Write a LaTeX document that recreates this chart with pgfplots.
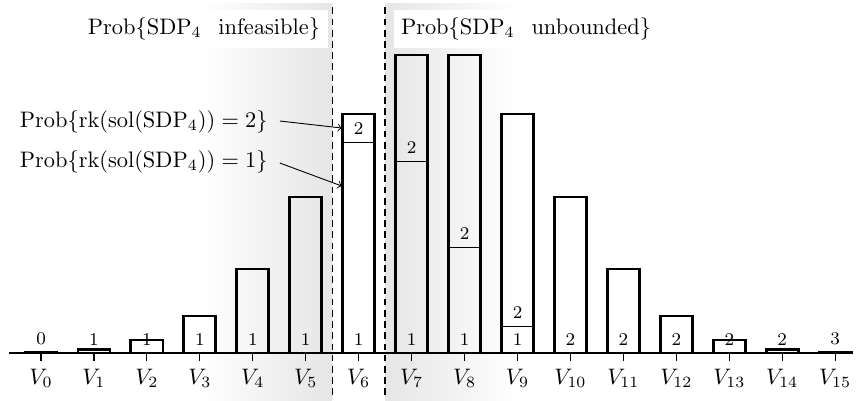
\documentclass[border=0pt]{standalone}
\usepackage{pgfplots}
\usepackage{pgfplotstable}
\pgfplotsset{compat=1.18}

\pgfplotstableread{
x tot low
0 1 0
1 3.5 3.5
2 13 13
3 37 37
4 84 84
5 156 156
6 239 211
7 298 192
8 298 106
9 239 27
10 156 0
11 84 0
12 37 0
13 13 0
14 3.5 0
15 1 0
}\bars

\pgfplotstableread{
x y lab
0 14 0
1 14 1
2 14 1
3 14 1
4 14 1
5 14 1
6 14 1
7 14 1
8 14 1
9 14 1
10 14 2
11 14 2
12 14 2
13 14 2
14 14 2
15 14 3
6 224 2
7 205 2
8 119 2
9 40 2
}\labels

\begin{document}
\begin{tikzpicture}
\begin{axis}[
  set layers,
  x=23.63pt, y=0.4464pt,
  xmin=-0.605, xmax=15.32, ymin=0, ymax=353,
  axis x line=bottom, axis y line=none,
  x axis line style={-, line width=0.6pt},
  xtick={0,...,15},
  xticklabel={$V_{\pgfmathprintnumber{\tick}}$},
  tick align=outside, major tick length=3.5pt,
  tick style={black, line width=0.5pt},
  ytick=\empty,
  clip=false,
]
\begin{pgfonlayer}{axis background}
\shade[left color=white, right color=gray!20] (axis cs:3,-47) rectangle (axis cs:5.5,349);
\shade[left color=gray!20, right color=white] (axis cs:6.5,-47) rectangle (axis cs:9,349);
\end{pgfonlayer}
\draw[densely dashed, line width=0.6pt] (axis cs:5.5,-42) -- (axis cs:5.5,350);
\draw[densely dashed, line width=0.6pt] (axis cs:6.5,-42) -- (axis cs:6.5,350);

\addplot[ybar, bar width=14.3pt, bar shift=0pt, draw=black, line width=0.4pt, fill=none] table[x=x,y=low] {\bars};
\addplot[ybar, bar width=14.3pt, bar shift=0pt, draw=black, line width=1.25pt, fill=none] table[x=x,y=tot] {\bars};
\addplot[draw=none, mark=none, nodes near coords, point meta=explicit symbolic,
  every node near coord/.append style={anchor=center, font=\footnotesize, inner sep=0pt}]
  table[x=x,y=y,meta=lab] {\labels};

\node[fill=white, anchor=east] at (axis cs:5.42,324) {$\mathrm{Prob}\{\mathrm{SDP}_4\hspace{7.5pt}\mathrm{infeasible}\}$};
\node[fill=white, anchor=west] at (axis cs:6.65,324) {$\mathrm{Prob}\{\mathrm{SDP}_4\hspace{7.5pt}\mathrm{unbounded}\}$};

\node[anchor=east] at (axis cs:4.43,231) {$\mathrm{Prob}\{\mathrm{rk}(\mathrm{sol}(\mathrm{SDP}_4))=2\}$};
\node[anchor=east] at (axis cs:4.43,191) {$\mathrm{Prob}\{\mathrm{rk}(\mathrm{sol}(\mathrm{SDP}_4))=1\}$};
\draw[->] (axis cs:4.51,232) -- (axis cs:5.68,225);
\draw[->] (axis cs:4.51,190) -- (axis cs:5.68,167);

\coordinate (bbsw) at (axis cs:-0.775,-47);
\coordinate (bbne) at (axis cs:15.45,353);
\end{axis}
\pgfresetboundingbox
\path[use as bounding box] (bbsw) rectangle (bbne);
\end{tikzpicture}
\end{document}
